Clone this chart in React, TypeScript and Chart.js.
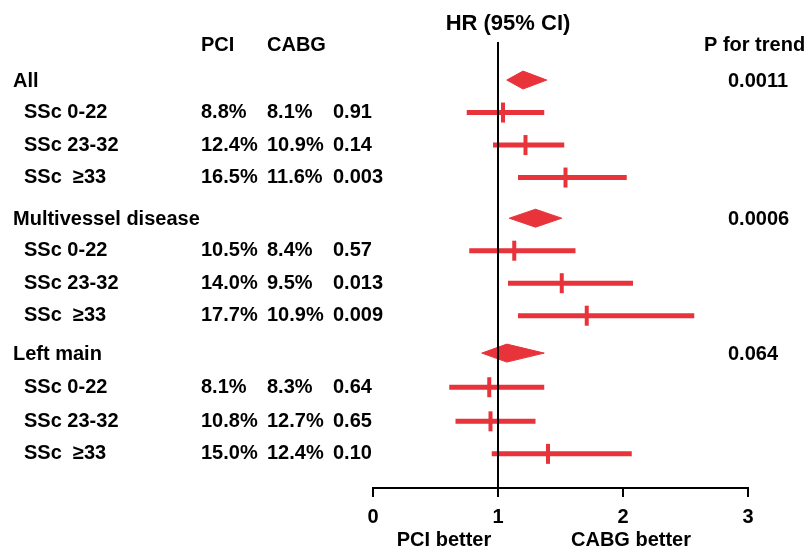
import React, { useEffect, useRef } from "react";
import { Chart, registerables } from "chart.js";

Chart.register(...registerables);

// ---- data ----
const groupLabels = ["All", "Multivessel disease", "Left main"];
const groupRows = [0, 4.25, 8.4];
const groupHR = [1.2, 1.3, 1.07];
const groupLow = [1.07, 1.09, 0.87];
const groupHigh = [1.39, 1.51, 1.37];
const pTrend = ["0.0011", "0.0006", "0.064"];

const subLabels = [
  "SSc 0-22", "SSc 23-32", "SSc  \u226533",
  "SSc 0-22", "SSc 23-32", "SSc  \u226533",
  "SSc 0-22", "SSc 23-32", "SSc  \u226533",
];
const subRows = [1, 2, 3, 5.25, 6.25, 7.25, 9.45, 10.5, 11.5];
const subHR = [1.04, 1.22, 1.54, 1.13, 1.51, 1.71, 0.93, 0.94, 1.4];
const subLow = [0.75, 0.96, 1.16, 0.77, 1.08, 1.16, 0.61, 0.66, 0.95];
const subHigh = [1.37, 1.53, 2.03, 1.62, 2.08, 2.57, 1.37, 1.3, 2.07];
const pciRate = ["8.8%", "12.4%", "16.5%", "10.5%", "14.0%", "17.7%", "8.1%", "10.8%", "15.0%"];
const cabgRate = ["8.1%", "10.9%", "11.6%", "8.4%", "9.5%", "10.9%", "8.3%", "12.7%", "12.4%"];
const pValues = ["0.91", "0.14", "0.003", "0.57", "0.013", "0.009", "0.64", "0.65", "0.10"];

const xTicks = [0, 1, 2, 3];
const refValue = 1;

// ---- styles ----
const RED = "#e8333b";
const FONT = '"Liberation Sans", Arial, Helvetica, sans-serif';
const DIAMOND_HALF = 0.276; // half height in row units

export default function App() {
  const canvasRef = useRef<HTMLCanvasElement | null>(null);

  useEffect(() => {
    if (!canvasRef.current) return;

    const ciData: any[] = [];
    subRows.forEach((r, i) => {
      ciData.push({ x: subLow[i], y: r });
      ciData.push({ x: subHigh[i], y: r });
      ciData.push({ x: null, y: null });
    });

    const diamondSets = groupRows.map((r, i) => ({
      type: "line" as const,
      data: [
        { x: groupLow[i], y: r },
        { x: groupHR[i], y: r - DIAMOND_HALF },
        { x: groupHigh[i], y: r },
        { x: groupHR[i], y: r + DIAMOND_HALF },
        { x: groupLow[i], y: r },
      ],
      borderColor: RED,
      backgroundColor: RED,
      borderWidth: 1,
      pointRadius: 0,
      fill: "shape",
      tension: 0,
    }));

    const textPlugin = {
      id: "forestText",
      afterDatasetsDraw(chart: any) {
        const { ctx, chartArea, scales } = chart;
        const x = scales.x;
        ctx.save();
        ctx.strokeStyle = "#000";
        ctx.lineWidth = 2;
        const px = Math.round(x.getPixelForValue(refValue));
        ctx.beginPath();
        ctx.moveTo(px, chartArea.top);
        ctx.lineTo(px, chartArea.bottom);
        ctx.stroke();
        ctx.restore();
      },
      afterDraw(chart: any) {
        const { ctx, scales } = chart;
        const y = scales.y;
        ctx.save();
        ctx.fillStyle = "#000";
        ctx.textBaseline = "middle";
        ctx.textAlign = "left";

        ctx.font = `bold 22px ${FONT}`;
        ctx.textAlign = "center";
        ctx.fillText("HR (95% CI)", 508, 24);

        ctx.font = `bold 20px ${FONT}`;
        ctx.textAlign = "left";
        ctx.fillText("PCI", 201, 45);
        ctx.fillText("CABG", 267, 45);
        ctx.fillText("P for trend", 704, 45);

        groupLabels.forEach((g, i) => {
          const yy = y.getPixelForValue(groupRows[i]) + 1.5;
          ctx.fillText(g, 13, yy);
          ctx.fillText(pTrend[i], 728, yy);
        });
        subLabels.forEach((s, i) => {
          const yy = y.getPixelForValue(subRows[i]);
          ctx.fillText(s, 24, yy);
          ctx.fillText(pciRate[i], 201, yy);
          ctx.fillText(cabgRate[i], 267, yy);
          ctx.fillText(pValues[i], 333, yy);
        });

        ctx.textAlign = "center";
        ctx.fillText("PCI better", 444, 540);
        ctx.fillText("CABG better", 631, 540);
        ctx.restore();
      },
    };

    const chart = new Chart(canvasRef.current, {
      type: "scatter",
      data: {
        datasets: [
          ...diamondSets,
          {
            type: "line",
            data: ciData,
            borderColor: RED,
            borderWidth: 5,
            pointRadius: 0,
            spanGaps: false,
            borderCapStyle: "butt",
            fill: false,
          } as any,
          {
            type: "scatter",
            data: subRows.map((r, i) => ({ x: subHR[i], y: r })),
            borderColor: RED,
            backgroundColor: RED,
            pointStyle: "line",
            rotation: 90,
            pointRadius: 10,
            borderWidth: 4,
          } as any,
        ],
      },
      options: {
        animation: false,
        responsive: true,
        maintainAspectRatio: false,
        layout: { padding: { left: 373, right: 61, top: 42, bottom: 16 } },
        plugins: { legend: { display: false }, tooltip: { enabled: false } },
        scales: {
          x: {
            type: "linear",
            min: 0,
            max: 3,
            afterBuildTicks: (axis: any) => {
              axis.ticks = xTicks.map((v) => ({ value: v }));
            },
            ticks: {
              color: "#000",
              padding: 8,
              font: { family: FONT, size: 20, weight: "bold" },
            },
            grid: {
              display: true,
              drawOnChartArea: false,
              drawTicks: true,
              tickLength: 9,
              color: "#000",
              lineWidth: 2,
            },
            border: { display: true, color: "#000", width: 2 },
          },
          y: {
            type: "linear",
            min: -1.17,
            max: 12.55,
            reverse: true,
            display: false,
          },
        },
      } as any,
      plugins: [textPlugin],
    });

    return () => chart.destroy();
  }, []);

  return (
    <div style={{ position: "absolute", left: 0, top: 0, width: 809, height: 553, background: "#fff" }}>
      <canvas ref={canvasRef} />
    </div>
  );
}
